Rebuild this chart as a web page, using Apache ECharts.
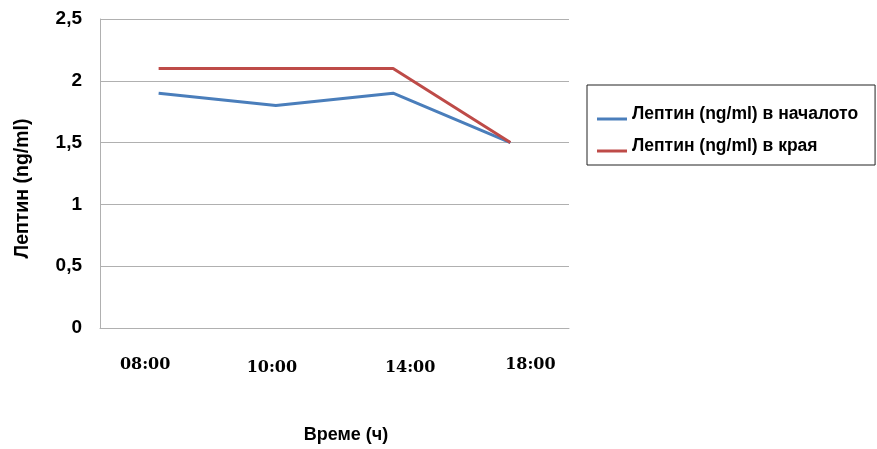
<!DOCTYPE html>
<html>
<head>
<meta charset="utf-8">
<script src="https://cdn.jsdelivr.net/npm/echarts@6/dist/echarts.min.js"></script>
<style>
  html, body { margin: 0; padding: 0; background: #fff; }
  #chart { width: 877px; height: 449px; }
</style>
</head>
<body>
<div id="chart"></div>
<script>
// Time points and leptin levels (ng/ml)
const times = ['08:00', '10:00', '14:00', '18:00'];
const leptinStart = [1.9, 1.8, 1.9, 1.5];
const leptinEnd = [2.1, 2.1, 2.1, 1.5];
const seriesNames = ['Лептин (ng/ml) в началото', 'Лептин (ng/ml) в края'];
const yTitle = 'Лептин (ng/ml)';
const xTitle = 'Време (ч)';

const FONT = '"Liberation Sans", Arial, sans-serif';
const GRID_GRAY = '#B0B0B0';
// Legend key: a short line sitting a little below the text's middle
const LEGEND_ICON = 'path://M0,0 M0,10 L30,10 L30,13 L0,13 Z';

const chart = echarts.init(document.getElementById('chart'), null, { renderer: 'canvas' });

const labelFont = { fontFamily: '"DejaVu Serif", serif', fontWeight: 'bold', fontSize: 16, color: '#000' };

chart.setOption({
  animation: false,
  backgroundColor: '#ffffff',
  grid: { left: 100, right: 308, top: 19, bottom: 115, containLabel: false },
  legend: {
    left: 587,
    top: 85,
    orient: 'vertical',
    backgroundColor: '#fff',
    borderColor: '#222',
    borderWidth: 1,
    padding: [19, 17, 9, 10],
    itemGap: 12,
    itemWidth: 30,
    itemHeight: 13,
    icon: LEGEND_ICON,
    textStyle: {
      fontFamily: FONT,
      fontWeight: 'bold',
      fontSize: 17.5,
      color: '#000',
      lineHeight: 20
    },
    data: seriesNames
  },
  xAxis: {
    type: 'category',
    data: times,
    boundaryGap: true,
    name: xTitle,
    nameLocation: 'middle',
    nameGap: 98,
    nameTextStyle: {
      fontFamily: FONT, fontWeight: 'bold', fontSize: 18, color: '#000',
      padding: [0, 0, 0, 23]
    },
    axisLine: { show: true, lineStyle: { color: GRID_GRAY, width: 1 } },
    axisTick: { show: false },
    axisLabel: {
      margin: 29,
      interval: 0,
      ...labelFont,
      formatter: (v, i) => `{l${i}|${v}}`,
      rich: {
        l0: { ...labelFont, padding: [0, 27, 0, 0] },
        l1: { ...labelFont, padding: [3, 8, 0, 0] },
        l2: { ...labelFont, padding: [3, 0, 0, 34] },
        l3: { ...labelFont, padding: [0, 0, 0, 40] }
      }
    },
    splitLine: { show: false }
  },
  yAxis: {
    type: 'value',
    min: 0,
    max: 2.5,
    interval: 0.5,
    name: yTitle,
    nameLocation: 'middle',
    nameRotate: 90,
    nameGap: 67,
    nameTextStyle: {
      fontFamily: FONT, fontWeight: 'bold', fontSize: 19.5, color: '#000',
      padding: [0, 30, 0, 0]
    },
    axisLine: { show: true, lineStyle: { color: GRID_GRAY, width: 1 } },
    axisTick: { show: false },
    axisLabel: {
      margin: 18,
      fontFamily: FONT,
      fontWeight: 'bold',
      fontSize: 19,
      color: '#000',
      formatter: v => String(v).replace('.', ',')
    },
    splitLine: { show: true, lineStyle: { color: GRID_GRAY, width: 1 } }
  },
  series: [
    {
      name: seriesNames[0],
      type: 'line',
      data: leptinStart,
      symbol: 'none',
      color: '#4A7EBB',
      lineStyle: { color: '#4A7EBB', width: 3 }
    },
    {
      name: seriesNames[1],
      type: 'line',
      data: leptinEnd,
      symbol: 'none',
      color: '#BE4B48',
      lineStyle: { color: '#BE4B48', width: 3 }
    }
  ]
});
</script>
</body>
</html>
